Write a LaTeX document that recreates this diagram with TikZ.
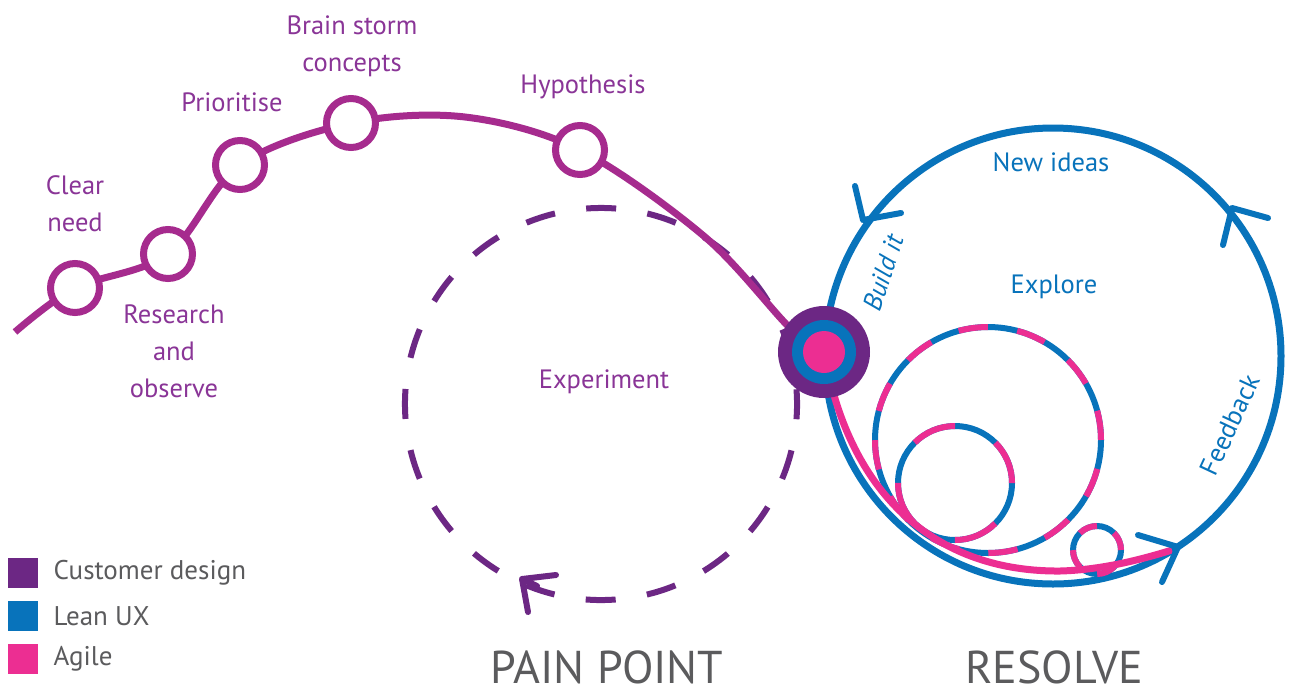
\documentclass[tikz,border=0pt]{standalone}
\usepackage{fontspec}
\setmainfont{PT Sans}
\usetikzlibrary{positioning,backgrounds}

\definecolor{cdpurple}{HTML}{6C2784}
\definecolor{trailpurple}{HTML}{A62B8E}
\definecolor{labelpurple}{HTML}{8A3597}
\definecolor{leanblue}{HTML}{0873BB}
\definecolor{agilepink}{HTML}{EC2E92}
\definecolor{textgrey}{HTML}{5B5B5D}

\tikzset{
  ring/.style={circle, draw=trailpurple, line width=7pt, fill=white, minimum size=49pt, inner sep=0pt},
  trail/.style={trailpurple, line width=7pt},
  stagelbl/.style={text=labelpurple, font=\fontsize{26.5}{37}\selectfont, align=center},
  bluelbl/.style={text=leanblue, font=\fontsize{26.5}{30}\selectfont},
  chev/.style={line width=6pt, line cap=round, line join=round},
  keybox/.style={minimum size=30pt, inner sep=0pt},
  keylbl/.style={text=textgrey, font=\fontsize{27}{30}\selectfont},
  phase/.style={text=textgrey, font=\fontsize{46}{50}\selectfont, anchor=base, inner sep=0pt},
}

\begin{document}
\begin{tikzpicture}[x=1pt,y=1pt]
\useasboundingbox (0,0) rectangle (1290,-689);

% stages along the trail
\coordinate (start) at (15,-332);
\node[ring] (clear) at (75,-288) {};
\node[ring] (research) at (168,-254) {};
\node[ring] (prior) at (240,-165) {};
\node[ring] (brain) at (351,-123) {};
\node[ring] (hypo) at (580,-150) {};

% hub where the loops meet
\node[circle, fill=cdpurple, minimum size=92pt] (hub) at (824,-352) {};
\node[circle, fill=leanblue, minimum size=64pt] (hubmid) at (hub) {};
\node[circle, fill=agilepink, minimum size=42pt] (hubcore) at (hub) {};

% loop centres
\coordinate (expc) at (601,-404);
\coordinate (resc) at (1053,-356);

\begin{scope}[on background layer]
\fill[white] (0,0) rectangle (1290,-689);

% experiment loop
\draw[cdpurple, line width=6pt, dash pattern=on 30pt off 31.6pt, dash phase=45.8pt]
  ([shift={(243:196pt)}]expc) arc[start angle=243, end angle=-117, radius=196pt];
\draw[cdpurple, chev] (556,-575) -- (522,-579) -- (528,-612) (537,-586) -- (522,-579);

% trail
\draw[trail] plot[smooth, tension=0.55] coordinates {(start) (clear.center) (research.center)
  (prior.center) (brain.center) (465,-117) (hypo.center) (705,-237) (790,-328) (hub.center)};

% resolve loop
\draw[leanblue, line width=7pt] (resc) circle[radius=228pt];
\foreach \cx/\cy/\r/\seg in {988/-440/113/29.6, 955/-483/57/44.75, 1097/-550/24/18.85}{
  \draw[leanblue, line width=6pt] (\cx,\cy) circle[radius=\r pt];
  \draw[agilepink, line width=6pt, dash pattern=on \seg pt off \seg pt] (\cx,\cy) circle[radius=\r pt];
}
\draw[agilepink, line width=7pt] (hub.center) .. controls (850,-500) and (940,-572) .. (1060,-571)
  .. controls (1100,-570) and (1140,-560) .. (1172,-550);

% arrow heads on the resolve loop
\draw[leanblue, chev] (855,-186) -- (863,-220) -- (901,-213);
\draw[leanblue, chev] (1268,-218) -- (1232,-208) -- (1223,-245);
\draw[leanblue, chev] (1138,-535) -- (1178,-547) -- (1162,-582);
\end{scope}

% labels
\node[stagelbl] (clearlbl) at (75,-204) {Clear\\need};
\node[stagelbl] (researchlbl) at (174,-351) {Research\\and\\observe};
\node[stagelbl] (priorlbl) at (232,-102) {Prioritise};
\node[stagelbl] (brainlbl) at (352,-46) {Brain storm\\concepts};
\node[stagelbl] (hypolbl) at (583,-87) {Hypothesis};
\node[stagelbl] (explbl) at (604,-382) {Experiment};

\node[bluelbl] (ideaslbl) at (1051,-162) {New ideas};
\node[bluelbl] (explorelbl) at (1054,-287) {Explore};
\node[bluelbl, rotate=72, font=\fontsize{26.5}{30}\selectfont\itshape] (buildlbl) at (883,-273) {Build it};
\node[bluelbl, rotate=65] (feedbacklbl) at (1230,-425) {Feedback};

% legend
\node[keybox, fill=cdpurple] (keycd) at (23,-573) {};
\node[keybox, fill=leanblue] (keylean) at (23,-616) {};
\node[keybox, fill=agilepink] (keyagile) at (23,-659) {};
\node[keylbl, right=12pt of keycd] (keycdlbl) {Customer design};
\node[keylbl, right=12pt of keylean] (keyleanlbl) {Lean UX};
\node[keylbl, right=12pt of keyagile] (keyagilelbl) {Agile};

% phases
\node[phase] (pain) at (607,-683) {PAIN POINT};
\node[phase] (resolve) at (1054,-683) {RESOLVE};

\end{tikzpicture}
\end{document}
